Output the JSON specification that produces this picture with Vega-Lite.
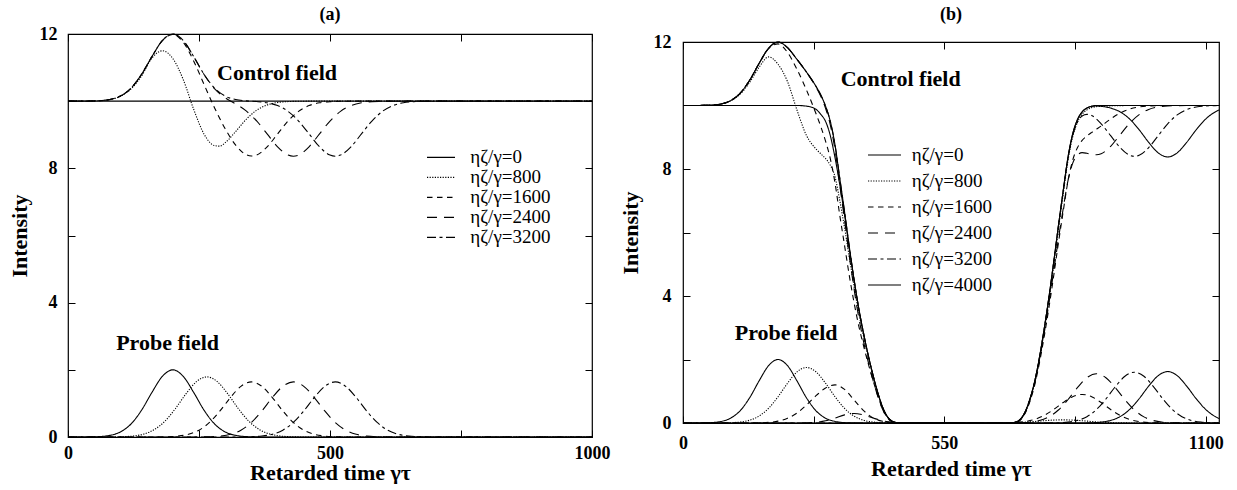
{
"$schema": "https://vega.github.io/schema/vega-lite/v6.json",
"background": "white",
"padding": {"left": 7, "top": 6, "right": 0, "bottom": 0},
"spacing": 7,
"resolve": {"scale": {"strokeDash": "independent"}, "legend": {"strokeDash": "independent"}},
"config": {
  "font": "Liberation Serif",
  "view": {"stroke": "black", "strokeWidth": 1.2},
  "axis": {"grid": false, "domain": false, "ticks": true, "tickColor": "black", "tickSize": -7, "tickWidth": 1, "labelFont": "Liberation Serif", "labelFontSize": 18, "labelFontWeight": "bold", "labelColor": "black", "labelFlush": false, "labelOverlap": false, "titleFont": "Liberation Serif", "titleFontSize": 22, "titleFontWeight": "bold", "titleColor": "black", "format": "d"},
  "title": {"font": "Liberation Serif", "fontSize": 18, "fontWeight": "bold", "color": "black"},
  "legend": {"labelFont": "Liberation Serif", "labelColor": "black"},
  "text": {"font": "Liberation Serif"}
},
"datasets": {
"a": [
{"s":0,"f":"P","t":0,"v":0},{"s":0,"f":"P","t":20,"v":0},{"s":0,"f":"P","t":40,"v":0.003},{"s":0,"f":"P","t":60,"v":0.013},{"s":0,"f":"P","t":80,"v":0.049},{"s":0,"f":"P","t":100,"v":0.151},{"s":0,"f":"P","t":120,"v":0.383},{"s":0,"f":"P","t":140,"v":0.789},{"s":0,"f":"P","t":160,"v":1.323},{"s":0,"f":"P","t":180,"v":1.804},{"s":0,"f":"P","t":200,"v":2},{"s":0,"f":"P","t":220,"v":1.804},{"s":0,"f":"P","t":240,"v":1.323},{"s":0,"f":"P","t":260,"v":0.789},{"s":0,"f":"P","t":280,"v":0.383},{"s":0,"f":"P","t":300,"v":0.151},{"s":0,"f":"P","t":320,"v":0.049},{"s":0,"f":"P","t":340,"v":0.013},{"s":0,"f":"P","t":360,"v":0.003},{"s":0,"f":"P","t":380,"v":0},{"s":0,"f":"P","t":1000,"v":0},
{"s":800,"f":"P","t":0,"v":0},{"s":800,"f":"P","t":85,"v":0.002},{"s":800,"f":"P","t":105,"v":0.009},{"s":800,"f":"P","t":125,"v":0.03},{"s":800,"f":"P","t":145,"v":0.089},{"s":800,"f":"P","t":165,"v":0.223},{"s":800,"f":"P","t":185,"v":0.472},{"s":800,"f":"P","t":205,"v":0.846},{"s":800,"f":"P","t":225,"v":1.283},{"s":800,"f":"P","t":245,"v":1.647},{"s":800,"f":"P","t":265,"v":1.79},{"s":800,"f":"P","t":285,"v":1.647},{"s":800,"f":"P","t":305,"v":1.283},{"s":800,"f":"P","t":325,"v":0.846},{"s":800,"f":"P","t":345,"v":0.472},{"s":800,"f":"P","t":365,"v":0.223},{"s":800,"f":"P","t":385,"v":0.089},{"s":800,"f":"P","t":405,"v":0.03},{"s":800,"f":"P","t":425,"v":0.009},{"s":800,"f":"P","t":445,"v":0.002},{"s":800,"f":"P","t":1000,"v":0},
{"s":1600,"f":"P","t":0,"v":0},{"s":1600,"f":"P","t":170,"v":0.002},{"s":1600,"f":"P","t":190,"v":0.008},{"s":1600,"f":"P","t":210,"v":0.028},{"s":1600,"f":"P","t":230,"v":0.082},{"s":1600,"f":"P","t":250,"v":0.204},{"s":1600,"f":"P","t":270,"v":0.433},{"s":1600,"f":"P","t":290,"v":0.775},{"s":1600,"f":"P","t":310,"v":1.175},{"s":1600,"f":"P","t":330,"v":1.509},{"s":1600,"f":"P","t":350,"v":1.64},{"s":1600,"f":"P","t":370,"v":1.509},{"s":1600,"f":"P","t":390,"v":1.175},{"s":1600,"f":"P","t":410,"v":0.775},{"s":1600,"f":"P","t":430,"v":0.433},{"s":1600,"f":"P","t":450,"v":0.204},{"s":1600,"f":"P","t":470,"v":0.082},{"s":1600,"f":"P","t":490,"v":0.028},{"s":1600,"f":"P","t":510,"v":0.008},{"s":1600,"f":"P","t":530,"v":0.002},{"s":1600,"f":"P","t":1000,"v":0},
{"s":2400,"f":"P","t":0,"v":0},{"s":2400,"f":"P","t":250,"v":0.002},{"s":2400,"f":"P","t":270,"v":0.008},{"s":2400,"f":"P","t":290,"v":0.028},{"s":2400,"f":"P","t":310,"v":0.082},{"s":2400,"f":"P","t":330,"v":0.204},{"s":2400,"f":"P","t":350,"v":0.433},{"s":2400,"f":"P","t":370,"v":0.775},{"s":2400,"f":"P","t":390,"v":1.175},{"s":2400,"f":"P","t":410,"v":1.509},{"s":2400,"f":"P","t":430,"v":1.64},{"s":2400,"f":"P","t":450,"v":1.509},{"s":2400,"f":"P","t":470,"v":1.175},{"s":2400,"f":"P","t":490,"v":0.775},{"s":2400,"f":"P","t":510,"v":0.433},{"s":2400,"f":"P","t":530,"v":0.204},{"s":2400,"f":"P","t":550,"v":0.082},{"s":2400,"f":"P","t":570,"v":0.028},{"s":2400,"f":"P","t":590,"v":0.008},{"s":2400,"f":"P","t":610,"v":0.002},{"s":2400,"f":"P","t":1000,"v":0},
{"s":3200,"f":"P","t":0,"v":0},{"s":3200,"f":"P","t":330,"v":0.002},{"s":3200,"f":"P","t":350,"v":0.008},{"s":3200,"f":"P","t":370,"v":0.028},{"s":3200,"f":"P","t":390,"v":0.082},{"s":3200,"f":"P","t":410,"v":0.204},{"s":3200,"f":"P","t":430,"v":0.433},{"s":3200,"f":"P","t":450,"v":0.775},{"s":3200,"f":"P","t":470,"v":1.175},{"s":3200,"f":"P","t":490,"v":1.509},{"s":3200,"f":"P","t":510,"v":1.64},{"s":3200,"f":"P","t":530,"v":1.509},{"s":3200,"f":"P","t":550,"v":1.175},{"s":3200,"f":"P","t":570,"v":0.775},{"s":3200,"f":"P","t":590,"v":0.433},{"s":3200,"f":"P","t":610,"v":0.204},{"s":3200,"f":"P","t":630,"v":0.082},{"s":3200,"f":"P","t":650,"v":0.028},{"s":3200,"f":"P","t":670,"v":0.008},{"s":3200,"f":"P","t":690,"v":0.002},{"s":3200,"f":"P","t":1000,"v":0},
{"s":0,"f":"C","t":0,"v":10},{"s":0,"f":"C","t":1000,"v":10},
{"s":800,"f":"C","t":0,"v":10},{"s":800,"f":"C","t":20,"v":10},{"s":800,"f":"C","t":40,"v":10.003},{"s":800,"f":"C","t":60,"v":10.013},{"s":800,"f":"C","t":80,"v":10.047},{"s":800,"f":"C","t":100,"v":10.145},{"s":800,"f":"C","t":120,"v":10.361},{"s":800,"f":"C","t":140,"v":10.74},{"s":800,"f":"C","t":160,"v":11.28},{"s":800,"f":"C","t":180,"v":11.5},{"s":800,"f":"C","t":200,"v":11.27},{"s":800,"f":"C","t":220,"v":10.64},{"s":800,"f":"C","t":240,"v":9.751},{"s":800,"f":"C","t":260,"v":9.008},{"s":800,"f":"C","t":280,"v":8.675},{"s":800,"f":"C","t":290,"v":8.66},{"s":800,"f":"C","t":300,"v":8.764},{"s":800,"f":"C","t":320,"v":9.096},{"s":800,"f":"C","t":340,"v":9.458},{"s":800,"f":"C","t":360,"v":9.73},{"s":800,"f":"C","t":380,"v":9.886},{"s":800,"f":"C","t":400,"v":9.96},{"s":800,"f":"C","t":420,"v":9.988},{"s":800,"f":"C","t":440,"v":9.997},{"s":800,"f":"C","t":460,"v":10},{"s":800,"f":"C","t":1000,"v":10},
{"s":1600,"f":"C","t":0,"v":10},{"s":1600,"f":"C","t":20,"v":10},{"s":1600,"f":"C","t":40,"v":10.003},{"s":1600,"f":"C","t":60,"v":10.013},{"s":1600,"f":"C","t":80,"v":10.049},{"s":1600,"f":"C","t":100,"v":10.151},{"s":1600,"f":"C","t":120,"v":10.383},{"s":1600,"f":"C","t":140,"v":10.789},{"s":1600,"f":"C","t":160,"v":11.322},{"s":1600,"f":"C","t":180,"v":11.8},{"s":1600,"f":"C","t":200,"v":11.985},{"s":1600,"f":"C","t":220,"v":11.755},{"s":1600,"f":"C","t":240,"v":11.191},{"s":1600,"f":"C","t":260,"v":10.485},{"s":1600,"f":"C","t":280,"v":9.792},{"s":1600,"f":"C","t":300,"v":9.177},{"s":1600,"f":"C","t":320,"v":8.689},{"s":1600,"f":"C","t":340,"v":8.407},{"s":1600,"f":"C","t":350,"v":8.366},{"s":1600,"f":"C","t":360,"v":8.397},{"s":1600,"f":"C","t":380,"v":8.64},{"s":1600,"f":"C","t":400,"v":9.026},{"s":1600,"f":"C","t":420,"v":9.409},{"s":1600,"f":"C","t":440,"v":9.696},{"s":1600,"f":"C","t":460,"v":9.868},{"s":1600,"f":"C","t":480,"v":9.951},{"s":1600,"f":"C","t":500,"v":9.985},{"s":1600,"f":"C","t":520,"v":9.996},{"s":1600,"f":"C","t":540,"v":10},{"s":1600,"f":"C","t":1000,"v":10},
{"s":2400,"f":"C","t":0,"v":10},{"s":2400,"f":"C","t":20,"v":10},{"s":2400,"f":"C","t":40,"v":10.003},{"s":2400,"f":"C","t":60,"v":10.013},{"s":2400,"f":"C","t":80,"v":10.049},{"s":2400,"f":"C","t":100,"v":10.151},{"s":2400,"f":"C","t":120,"v":10.383},{"s":2400,"f":"C","t":140,"v":10.789},{"s":2400,"f":"C","t":160,"v":11.323},{"s":2400,"f":"C","t":180,"v":11.804},{"s":2400,"f":"C","t":200,"v":12},{"s":2400,"f":"C","t":220,"v":11.804},{"s":2400,"f":"C","t":240,"v":11.322},{"s":2400,"f":"C","t":260,"v":10.785},{"s":2400,"f":"C","t":280,"v":10.368},{"s":2400,"f":"C","t":300,"v":10.102},{"s":2400,"f":"C","t":320,"v":9.917},{"s":2400,"f":"C","t":340,"v":9.709},{"s":2400,"f":"C","t":360,"v":9.412},{"s":2400,"f":"C","t":380,"v":9.026},{"s":2400,"f":"C","t":400,"v":8.64},{"s":2400,"f":"C","t":420,"v":8.394},{"s":2400,"f":"C","t":430,"v":8.36},{"s":2400,"f":"C","t":440,"v":8.394},{"s":2400,"f":"C","t":460,"v":8.64},{"s":2400,"f":"C","t":480,"v":9.026},{"s":2400,"f":"C","t":500,"v":9.409},{"s":2400,"f":"C","t":520,"v":9.696},{"s":2400,"f":"C","t":540,"v":9.868},{"s":2400,"f":"C","t":560,"v":9.951},{"s":2400,"f":"C","t":580,"v":9.985},{"s":2400,"f":"C","t":600,"v":9.996},{"s":2400,"f":"C","t":620,"v":10},{"s":2400,"f":"C","t":1000,"v":10},
{"s":3200,"f":"C","t":0,"v":10},{"s":3200,"f":"C","t":20,"v":10},{"s":3200,"f":"C","t":40,"v":10.003},{"s":3200,"f":"C","t":60,"v":10.013},{"s":3200,"f":"C","t":80,"v":10.049},{"s":3200,"f":"C","t":100,"v":10.151},{"s":3200,"f":"C","t":120,"v":10.383},{"s":3200,"f":"C","t":140,"v":10.789},{"s":3200,"f":"C","t":160,"v":11.323},{"s":3200,"f":"C","t":180,"v":11.804},{"s":3200,"f":"C","t":200,"v":12},{"s":3200,"f":"C","t":220,"v":11.804},{"s":3200,"f":"C","t":240,"v":11.323},{"s":3200,"f":"C","t":260,"v":10.789},{"s":3200,"f":"C","t":280,"v":10.383},{"s":3200,"f":"C","t":300,"v":10.151},{"s":3200,"f":"C","t":320,"v":10.048},{"s":3200,"f":"C","t":340,"v":10.009},{"s":3200,"f":"C","t":360,"v":9.988},{"s":3200,"f":"C","t":380,"v":9.951},{"s":3200,"f":"C","t":400,"v":9.868},{"s":3200,"f":"C","t":420,"v":9.696},{"s":3200,"f":"C","t":440,"v":9.409},{"s":3200,"f":"C","t":460,"v":9.026},{"s":3200,"f":"C","t":480,"v":8.64},{"s":3200,"f":"C","t":500,"v":8.394},{"s":3200,"f":"C","t":510,"v":8.36},{"s":3200,"f":"C","t":520,"v":8.394},{"s":3200,"f":"C","t":540,"v":8.64},{"s":3200,"f":"C","t":560,"v":9.026},{"s":3200,"f":"C","t":580,"v":9.409},{"s":3200,"f":"C","t":600,"v":9.696},{"s":3200,"f":"C","t":620,"v":9.868},{"s":3200,"f":"C","t":640,"v":9.951},{"s":3200,"f":"C","t":660,"v":9.985},{"s":3200,"f":"C","t":680,"v":9.996},{"s":3200,"f":"C","t":700,"v":10},{"s":3200,"f":"C","t":1000,"v":10}
],
"b": [
{"s":0,"f":"P","t":0,"v":0},{"s":0,"f":"P","t":20,"v":0},{"s":0,"f":"P","t":40,"v":0.003},{"s":0,"f":"P","t":60,"v":0.013},{"s":0,"f":"P","t":80,"v":0.049},{"s":0,"f":"P","t":100,"v":0.151},{"s":0,"f":"P","t":120,"v":0.383},{"s":0,"f":"P","t":140,"v":0.789},{"s":0,"f":"P","t":160,"v":1.323},{"s":0,"f":"P","t":180,"v":1.804},{"s":0,"f":"P","t":200,"v":2},{"s":0,"f":"P","t":220,"v":1.804},{"s":0,"f":"P","t":240,"v":1.323},{"s":0,"f":"P","t":260,"v":0.789},{"s":0,"f":"P","t":280,"v":0.383},{"s":0,"f":"P","t":300,"v":0.151},{"s":0,"f":"P","t":320,"v":0.049},{"s":0,"f":"P","t":340,"v":0.013},{"s":0,"f":"P","t":360,"v":0.003},{"s":0,"f":"P","t":380,"v":0},{"s":0,"f":"P","t":1128,"v":0},
{"s":800,"f":"P","t":0,"v":0},{"s":800,"f":"P","t":80,"v":0.002},{"s":800,"f":"P","t":100,"v":0.009},{"s":800,"f":"P","t":120,"v":0.03},{"s":800,"f":"P","t":140,"v":0.087},{"s":800,"f":"P","t":160,"v":0.218},{"s":800,"f":"P","t":180,"v":0.461},{"s":800,"f":"P","t":200,"v":0.827},{"s":800,"f":"P","t":220,"v":1.254},{"s":800,"f":"P","t":240,"v":1.61},{"s":800,"f":"P","t":260,"v":1.75},{"s":800,"f":"P","t":280,"v":1.61},{"s":800,"f":"P","t":300,"v":1.254},{"s":800,"f":"P","t":320,"v":0.827},{"s":800,"f":"P","t":340,"v":0.461},{"s":800,"f":"P","t":360,"v":0.218},{"s":800,"f":"P","t":380,"v":0.087},{"s":800,"f":"P","t":400,"v":0.03},{"s":800,"f":"P","t":420,"v":0.009},{"s":800,"f":"P","t":440,"v":0.002},{"s":800,"f":"P","t":460,"v":0},{"s":800,"f":"P","t":680,"v":0},{"s":800,"f":"P","t":700,"v":0.013},{"s":800,"f":"P","t":720,"v":0.026},{"s":800,"f":"P","t":740,"v":0.047},{"s":800,"f":"P","t":760,"v":0.072},{"s":800,"f":"P","t":780,"v":0.092},{"s":800,"f":"P","t":800,"v":0.1},{"s":800,"f":"P","t":820,"v":0.092},{"s":800,"f":"P","t":840,"v":0.072},{"s":800,"f":"P","t":860,"v":0.047},{"s":800,"f":"P","t":880,"v":0.026},{"s":800,"f":"P","t":900,"v":0.013},{"s":800,"f":"P","t":920,"v":0.005},{"s":800,"f":"P","t":940,"v":0.002},{"s":800,"f":"P","t":960,"v":0},{"s":800,"f":"P","t":1128,"v":0},
{"s":1600,"f":"P","t":0,"v":0},{"s":1600,"f":"P","t":140,"v":0.001},{"s":1600,"f":"P","t":160,"v":0.006},{"s":1600,"f":"P","t":180,"v":0.02},{"s":1600,"f":"P","t":200,"v":0.06},{"s":1600,"f":"P","t":220,"v":0.15},{"s":1600,"f":"P","t":240,"v":0.316},{"s":1600,"f":"P","t":260,"v":0.567},{"s":1600,"f":"P","t":280,"v":0.86},{"s":1600,"f":"P","t":300,"v":1.104},{"s":1600,"f":"P","t":320,"v":1.2},{"s":1600,"f":"P","t":340,"v":1.059},{"s":1600,"f":"P","t":360,"v":0.728},{"s":1600,"f":"P","t":380,"v":0.39},{"s":1600,"f":"P","t":400,"v":0.162},{"s":1600,"f":"P","t":420,"v":0.053},{"s":1600,"f":"P","t":440,"v":0.013},{"s":1600,"f":"P","t":460,"v":0.003},{"s":1600,"f":"P","t":480,"v":0},{"s":1600,"f":"P","t":660,"v":0},{"s":1600,"f":"P","t":680,"v":0.004},{"s":1600,"f":"P","t":700,"v":0.015},{"s":1600,"f":"P","t":720,"v":0.045},{"s":1600,"f":"P","t":740,"v":0.112},{"s":1600,"f":"P","t":760,"v":0.237},{"s":1600,"f":"P","t":780,"v":0.425},{"s":1600,"f":"P","t":800,"v":0.645},{"s":1600,"f":"P","t":820,"v":0.828},{"s":1600,"f":"P","t":840,"v":0.9},{"s":1600,"f":"P","t":860,"v":0.828},{"s":1600,"f":"P","t":880,"v":0.645},{"s":1600,"f":"P","t":900,"v":0.425},{"s":1600,"f":"P","t":920,"v":0.237},{"s":1600,"f":"P","t":940,"v":0.112},{"s":1600,"f":"P","t":960,"v":0.045},{"s":1600,"f":"P","t":980,"v":0.015},{"s":1600,"f":"P","t":1000,"v":0.004},{"s":1600,"f":"P","t":1020,"v":0},{"s":1600,"f":"P","t":1128,"v":0},
{"s":2400,"f":"P","t":0,"v":0},{"s":2400,"f":"P","t":240,"v":0},{"s":2400,"f":"P","t":260,"v":0.005},{"s":2400,"f":"P","t":280,"v":0.022},{"s":2400,"f":"P","t":300,"v":0.069},{"s":2400,"f":"P","t":320,"v":0.156},{"s":2400,"f":"P","t":340,"v":0.255},{"s":2400,"f":"P","t":360,"v":0.3},{"s":2400,"f":"P","t":380,"v":0.255},{"s":2400,"f":"P","t":400,"v":0.156},{"s":2400,"f":"P","t":420,"v":0.069},{"s":2400,"f":"P","t":440,"v":0.022},{"s":2400,"f":"P","t":460,"v":0.005},{"s":2400,"f":"P","t":480,"v":0},{"s":2400,"f":"P","t":670,"v":0},{"s":2400,"f":"P","t":690,"v":0.002},{"s":2400,"f":"P","t":710,"v":0.008},{"s":2400,"f":"P","t":730,"v":0.026},{"s":2400,"f":"P","t":750,"v":0.077},{"s":2400,"f":"P","t":770,"v":0.193},{"s":2400,"f":"P","t":790,"v":0.409},{"s":2400,"f":"P","t":810,"v":0.732},{"s":2400,"f":"P","t":830,"v":1.111},{"s":2400,"f":"P","t":850,"v":1.426},{"s":2400,"f":"P","t":870,"v":1.55},{"s":2400,"f":"P","t":890,"v":1.426},{"s":2400,"f":"P","t":910,"v":1.111},{"s":2400,"f":"P","t":930,"v":0.732},{"s":2400,"f":"P","t":950,"v":0.409},{"s":2400,"f":"P","t":970,"v":0.193},{"s":2400,"f":"P","t":990,"v":0.077},{"s":2400,"f":"P","t":1010,"v":0.026},{"s":2400,"f":"P","t":1030,"v":0.008},{"s":2400,"f":"P","t":1050,"v":0.002},{"s":2400,"f":"P","t":1070,"v":0},{"s":2400,"f":"P","t":1128,"v":0},
{"s":3200,"f":"P","t":0,"v":0},{"s":3200,"f":"P","t":750,"v":0},{"s":3200,"f":"P","t":770,"v":0.002},{"s":3200,"f":"P","t":790,"v":0.008},{"s":3200,"f":"P","t":810,"v":0.027},{"s":3200,"f":"P","t":830,"v":0.08},{"s":3200,"f":"P","t":850,"v":0.199},{"s":3200,"f":"P","t":870,"v":0.422},{"s":3200,"f":"P","t":890,"v":0.756},{"s":3200,"f":"P","t":910,"v":1.147},{"s":3200,"f":"P","t":930,"v":1.472},{"s":3200,"f":"P","t":950,"v":1.6},{"s":3200,"f":"P","t":970,"v":1.472},{"s":3200,"f":"P","t":990,"v":1.147},{"s":3200,"f":"P","t":1010,"v":0.756},{"s":3200,"f":"P","t":1030,"v":0.422},{"s":3200,"f":"P","t":1050,"v":0.199},{"s":3200,"f":"P","t":1070,"v":0.08},{"s":3200,"f":"P","t":1090,"v":0.027},{"s":3200,"f":"P","t":1110,"v":0.008},{"s":3200,"f":"P","t":1128,"v":0.003},
{"s":4000,"f":"P","t":0,"v":0},{"s":4000,"f":"P","t":840,"v":0},{"s":4000,"f":"P","t":860,"v":0.008},{"s":4000,"f":"P","t":880,"v":0.027},{"s":4000,"f":"P","t":900,"v":0.081},{"s":4000,"f":"P","t":920,"v":0.202},{"s":4000,"f":"P","t":940,"v":0.427},{"s":4000,"f":"P","t":960,"v":0.765},{"s":4000,"f":"P","t":980,"v":1.161},{"s":4000,"f":"P","t":1000,"v":1.491},{"s":4000,"f":"P","t":1020,"v":1.62},{"s":4000,"f":"P","t":1040,"v":1.491},{"s":4000,"f":"P","t":1060,"v":1.161},{"s":4000,"f":"P","t":1080,"v":0.765},{"s":4000,"f":"P","t":1100,"v":0.427},{"s":4000,"f":"P","t":1120,"v":0.202},{"s":4000,"f":"P","t":1128,"v":0.143},
{"s":0,"f":"C","t":0,"v":10},{"s":0,"f":"C","t":240,"v":10},{"s":0,"f":"C","t":260,"v":9.98},{"s":0,"f":"C","t":280,"v":9.88},{"s":0,"f":"C","t":290,"v":9.72},{"s":0,"f":"C","t":300,"v":9.5},{"s":0,"f":"C","t":310,"v":9.05},{"s":0,"f":"C","t":320,"v":8.35},{"s":0,"f":"C","t":330,"v":7.5},{"s":0,"f":"C","t":340,"v":6.55},{"s":0,"f":"C","t":350,"v":5.5},{"s":0,"f":"C","t":360,"v":4.5},{"s":0,"f":"C","t":370,"v":3.6},{"s":0,"f":"C","t":380,"v":2.82},{"s":0,"f":"C","t":390,"v":2.12},{"s":0,"f":"C","t":400,"v":1.5},{"s":0,"f":"C","t":410,"v":0.95},{"s":0,"f":"C","t":420,"v":0.5},{"s":0,"f":"C","t":430,"v":0.2},{"s":0,"f":"C","t":440,"v":0.06},{"s":0,"f":"C","t":450,"v":0.01},{"s":0,"f":"C","t":460,"v":0},{"s":0,"f":"C","t":690,"v":0},{"s":0,"f":"C","t":700,"v":0.03},{"s":0,"f":"C","t":710,"v":0.12},{"s":0,"f":"C","t":720,"v":0.35},{"s":0,"f":"C","t":730,"v":0.75},{"s":0,"f":"C","t":740,"v":1.3},{"s":0,"f":"C","t":750,"v":2.05},{"s":0,"f":"C","t":760,"v":2.95},{"s":0,"f":"C","t":770,"v":3.95},{"s":0,"f":"C","t":780,"v":5.05},{"s":0,"f":"C","t":790,"v":6.2},{"s":0,"f":"C","t":800,"v":7.3},{"s":0,"f":"C","t":810,"v":8.35},{"s":0,"f":"C","t":820,"v":9.1},{"s":0,"f":"C","t":830,"v":9.55},{"s":0,"f":"C","t":840,"v":9.8},{"s":0,"f":"C","t":850,"v":9.92},{"s":0,"f":"C","t":860,"v":9.98},{"s":0,"f":"C","t":870,"v":10},{"s":0,"f":"C","t":1128,"v":10},
{"s":800,"f":"C","t":0,"v":10},{"s":800,"f":"C","t":20,"v":10},{"s":800,"f":"C","t":40,"v":10.003},{"s":800,"f":"C","t":60,"v":10.013},{"s":800,"f":"C","t":80,"v":10.047},{"s":800,"f":"C","t":100,"v":10.142},{"s":800,"f":"C","t":120,"v":10.353},{"s":800,"f":"C","t":140,"v":10.72},{"s":800,"f":"C","t":160,"v":11.2},{"s":800,"f":"C","t":180,"v":11.53},{"s":800,"f":"C","t":200,"v":11.3},{"s":800,"f":"C","t":220,"v":10.75},{"s":800,"f":"C","t":240,"v":9.85},{"s":800,"f":"C","t":260,"v":9.05},{"s":800,"f":"C","t":280,"v":8.63},{"s":800,"f":"C","t":290,"v":8.48},{"s":800,"f":"C","t":300,"v":8.33},{"s":800,"f":"C","t":310,"v":8.12},{"s":800,"f":"C","t":320,"v":7.75},{"s":800,"f":"C","t":330,"v":7.0},{"s":800,"f":"C","t":340,"v":6.15},{"s":800,"f":"C","t":350,"v":5.226},{"s":800,"f":"C","t":360,"v":4.302},{"s":800,"f":"C","t":370,"v":3.459},{"s":800,"f":"C","t":380,"v":2.733},{"s":800,"f":"C","t":390,"v":2.068},{"s":800,"f":"C","t":400,"v":1.47},{"s":800,"f":"C","t":410,"v":0.934},{"s":800,"f":"C","t":420,"v":0.491},{"s":800,"f":"C","t":430,"v":0.196},{"s":800,"f":"C","t":440,"v":0.058},{"s":800,"f":"C","t":450,"v":0.01},{"s":800,"f":"C","t":460,"v":0},{"s":800,"f":"C","t":690,"v":0},{"s":800,"f":"C","t":700,"v":0.018},{"s":800,"f":"C","t":710,"v":0.1},{"s":800,"f":"C","t":720,"v":0.324},{"s":800,"f":"C","t":730,"v":0.714},{"s":800,"f":"C","t":740,"v":1.253},{"s":800,"f":"C","t":750,"v":1.991},{"s":800,"f":"C","t":760,"v":2.878},{"s":800,"f":"C","t":770,"v":3.867},{"s":800,"f":"C","t":780,"v":4.958},{"s":800,"f":"C","t":790,"v":6.102},{"s":800,"f":"C","t":800,"v":7.2},{"s":800,"f":"C","t":810,"v":8.252},{"s":800,"f":"C","t":820,"v":9.008},{"s":800,"f":"C","t":830,"v":9.467},{"s":800,"f":"C","t":840,"v":9.728},{"s":800,"f":"C","t":850,"v":9.861},{"s":800,"f":"C","t":860,"v":9.933},{"s":800,"f":"C","t":870,"v":9.964},{"s":800,"f":"C","t":880,"v":9.974},{"s":800,"f":"C","t":900,"v":9.988},{"s":800,"f":"C","t":920,"v":9.995},{"s":800,"f":"C","t":940,"v":10},{"s":800,"f":"C","t":1128,"v":10},
{"s":1600,"f":"C","t":0,"v":10},{"s":1600,"f":"C","t":20,"v":10},{"s":1600,"f":"C","t":40,"v":10.003},{"s":1600,"f":"C","t":60,"v":10.013},{"s":1600,"f":"C","t":80,"v":10.049},{"s":1600,"f":"C","t":100,"v":10.151},{"s":1600,"f":"C","t":120,"v":10.383},{"s":1600,"f":"C","t":140,"v":10.788},{"s":1600,"f":"C","t":160,"v":11.317},{"s":1600,"f":"C","t":180,"v":11.784},{"s":1600,"f":"C","t":200,"v":11.94},{"s":1600,"f":"C","t":220,"v":11.67},{"s":1600,"f":"C","t":240,"v":11.134},{"s":1600,"f":"C","t":260,"v":10.483},{"s":1600,"f":"C","t":280,"v":9.74},{"s":1600,"f":"C","t":290,"v":9.335},{"s":1600,"f":"C","t":300,"v":8.876},{"s":1600,"f":"C","t":310,"v":8.325},{"s":1600,"f":"C","t":320,"v":7.55},{"s":1600,"f":"C","t":330,"v":6.537},{"s":1600,"f":"C","t":340,"v":5.591},{"s":1600,"f":"C","t":350,"v":4.644},{"s":1600,"f":"C","t":360,"v":3.792},{"s":1600,"f":"C","t":370,"v":3.05},{"s":1600,"f":"C","t":380,"v":2.43},{"s":1600,"f":"C","t":390,"v":1.86},{"s":1600,"f":"C","t":400,"v":1.338},{"s":1600,"f":"C","t":410,"v":0.854},{"s":1600,"f":"C","t":420,"v":0.447},{"s":1600,"f":"C","t":430,"v":0.173},{"s":1600,"f":"C","t":440,"v":0.047},{"s":1600,"f":"C","t":450,"v":0.004},{"s":1600,"f":"C","t":460,"v":0},{"s":1600,"f":"C","t":690,"v":0},{"s":1600,"f":"C","t":700,"v":0.015},{"s":1600,"f":"C","t":710,"v":0.093},{"s":1600,"f":"C","t":720,"v":0.305},{"s":1600,"f":"C","t":730,"v":0.678},{"s":1600,"f":"C","t":740,"v":1.188},{"s":1600,"f":"C","t":750,"v":1.883},{"s":1600,"f":"C","t":760,"v":2.713},{"s":1600,"f":"C","t":770,"v":3.626},{"s":1600,"f":"C","t":780,"v":4.625},{"s":1600,"f":"C","t":790,"v":5.665},{"s":1600,"f":"C","t":800,"v":6.655},{"s":1600,"f":"C","t":810,"v":7.604},{"s":1600,"f":"C","t":820,"v":8.272},{"s":1600,"f":"C","t":830,"v":8.669},{"s":1600,"f":"C","t":840,"v":8.9},{"s":1600,"f":"C","t":850,"v":9.039},{"s":1600,"f":"C","t":860,"v":9.152},{"s":1600,"f":"C","t":870,"v":9.254},{"s":1600,"f":"C","t":880,"v":9.355},{"s":1600,"f":"C","t":900,"v":9.575},{"s":1600,"f":"C","t":920,"v":9.763},{"s":1600,"f":"C","t":940,"v":9.888},{"s":1600,"f":"C","t":960,"v":9.955},{"s":1600,"f":"C","t":980,"v":9.985},{"s":1600,"f":"C","t":1000,"v":9.996},{"s":1600,"f":"C","t":1020,"v":10},{"s":1600,"f":"C","t":1128,"v":10},
{"s":2400,"f":"C","t":0,"v":10},{"s":2400,"f":"C","t":20,"v":10},{"s":2400,"f":"C","t":40,"v":10.003},{"s":2400,"f":"C","t":60,"v":10.013},{"s":2400,"f":"C","t":80,"v":10.049},{"s":2400,"f":"C","t":100,"v":10.151},{"s":2400,"f":"C","t":120,"v":10.383},{"s":2400,"f":"C","t":140,"v":10.789},{"s":2400,"f":"C","t":160,"v":11.323},{"s":2400,"f":"C","t":180,"v":11.804},{"s":2400,"f":"C","t":200,"v":12},{"s":2400,"f":"C","t":220,"v":11.82},{"s":2400,"f":"C","t":240,"v":11.45},{"s":2400,"f":"C","t":260,"v":11.045},{"s":2400,"f":"C","t":280,"v":10.578},{"s":2400,"f":"C","t":290,"v":10.289},{"s":2400,"f":"C","t":300,"v":9.911},{"s":2400,"f":"C","t":310,"v":9.392},{"s":2400,"f":"C","t":320,"v":8.594},{"s":2400,"f":"C","t":330,"v":7.492},{"s":2400,"f":"C","t":340,"v":6.395},{"s":2400,"f":"C","t":350,"v":5.262},{"s":2400,"f":"C","t":360,"v":4.22},{"s":2400,"f":"C","t":370,"v":3.312},{"s":2400,"f":"C","t":380,"v":2.565},{"s":2400,"f":"C","t":390,"v":1.912},{"s":2400,"f":"C","t":400,"v":1.344},{"s":2400,"f":"C","t":410,"v":0.842},{"s":2400,"f":"C","t":420,"v":0.431},{"s":2400,"f":"C","t":430,"v":0.159},{"s":2400,"f":"C","t":440,"v":0.038},{"s":2400,"f":"C","t":450,"v":0},{"s":2400,"f":"C","t":690,"v":0},{"s":2400,"f":"C","t":700,"v":0.026},{"s":2400,"f":"C","t":710,"v":0.113},{"s":2400,"f":"C","t":720,"v":0.336},{"s":2400,"f":"C","t":730,"v":0.724},{"s":2400,"f":"C","t":740,"v":1.254},{"s":2400,"f":"C","t":750,"v":1.973},{"s":2400,"f":"C","t":760,"v":2.825},{"s":2400,"f":"C","t":770,"v":3.757},{"s":2400,"f":"C","t":780,"v":4.763},{"s":2400,"f":"C","t":790,"v":5.791},{"s":2400,"f":"C","t":800,"v":6.741},{"s":2400,"f":"C","t":810,"v":7.618},{"s":2400,"f":"C","t":820,"v":8.179},{"s":2400,"f":"C","t":830,"v":8.439},{"s":2400,"f":"C","t":840,"v":8.515},{"s":2400,"f":"C","t":850,"v":8.494},{"s":2400,"f":"C","t":860,"v":8.462},{"s":2400,"f":"C","t":870,"v":8.45},{"s":2400,"f":"C","t":880,"v":8.482},{"s":2400,"f":"C","t":900,"v":8.715},{"s":2400,"f":"C","t":920,"v":9.079},{"s":2400,"f":"C","t":940,"v":9.441},{"s":2400,"f":"C","t":960,"v":9.713},{"s":2400,"f":"C","t":980,"v":9.875},{"s":2400,"f":"C","t":1000,"v":9.954},{"s":2400,"f":"C","t":1020,"v":9.986},{"s":2400,"f":"C","t":1040,"v":9.996},{"s":2400,"f":"C","t":1060,"v":10},{"s":2400,"f":"C","t":1128,"v":10},
{"s":3200,"f":"C","t":0,"v":10},{"s":3200,"f":"C","t":20,"v":10},{"s":3200,"f":"C","t":40,"v":10.003},{"s":3200,"f":"C","t":60,"v":10.013},{"s":3200,"f":"C","t":80,"v":10.049},{"s":3200,"f":"C","t":100,"v":10.151},{"s":3200,"f":"C","t":120,"v":10.383},{"s":3200,"f":"C","t":140,"v":10.789},{"s":3200,"f":"C","t":160,"v":11.323},{"s":3200,"f":"C","t":180,"v":11.804},{"s":3200,"f":"C","t":200,"v":12},{"s":3200,"f":"C","t":220,"v":11.82},{"s":3200,"f":"C","t":240,"v":11.45},{"s":3200,"f":"C","t":260,"v":11.05},{"s":3200,"f":"C","t":280,"v":10.6},{"s":3200,"f":"C","t":290,"v":10.33},{"s":3200,"f":"C","t":300,"v":9.98},{"s":3200,"f":"C","t":310,"v":9.5},{"s":3200,"f":"C","t":320,"v":8.75},{"s":3200,"f":"C","t":330,"v":7.7},{"s":3200,"f":"C","t":340,"v":6.65},{"s":3200,"f":"C","t":350,"v":5.55},{"s":3200,"f":"C","t":360,"v":4.52},{"s":3200,"f":"C","t":370,"v":3.6},{"s":3200,"f":"C","t":380,"v":2.82},{"s":3200,"f":"C","t":390,"v":2.12},{"s":3200,"f":"C","t":400,"v":1.5},{"s":3200,"f":"C","t":410,"v":0.95},{"s":3200,"f":"C","t":420,"v":0.5},{"s":3200,"f":"C","t":430,"v":0.2},{"s":3200,"f":"C","t":440,"v":0.06},{"s":3200,"f":"C","t":450,"v":0.01},{"s":3200,"f":"C","t":460,"v":0},{"s":3200,"f":"C","t":690,"v":0},{"s":3200,"f":"C","t":700,"v":0.03},{"s":3200,"f":"C","t":710,"v":0.12},{"s":3200,"f":"C","t":720,"v":0.35},{"s":3200,"f":"C","t":730,"v":0.75},{"s":3200,"f":"C","t":740,"v":1.3},{"s":3200,"f":"C","t":750,"v":2.05},{"s":3200,"f":"C","t":760,"v":2.95},{"s":3200,"f":"C","t":770,"v":3.948},{"s":3200,"f":"C","t":780,"v":5.046},{"s":3200,"f":"C","t":790,"v":6.192},{"s":3200,"f":"C","t":800,"v":7.285},{"s":3200,"f":"C","t":810,"v":8.323},{"s":3200,"f":"C","t":820,"v":9.053},{"s":3200,"f":"C","t":830,"v":9.47},{"s":3200,"f":"C","t":840,"v":9.671},{"s":3200,"f":"C","t":850,"v":9.721},{"s":3200,"f":"C","t":860,"v":9.684},{"s":3200,"f":"C","t":870,"v":9.578},{"s":3200,"f":"C","t":880,"v":9.423},{"s":3200,"f":"C","t":900,"v":9.049},{"s":3200,"f":"C","t":920,"v":8.673},{"s":3200,"f":"C","t":940,"v":8.433},{"s":3200,"f":"C","t":950,"v":8.4},{"s":3200,"f":"C","t":960,"v":8.433},{"s":3200,"f":"C","t":980,"v":8.673},{"s":3200,"f":"C","t":1000,"v":9.049},{"s":3200,"f":"C","t":1020,"v":9.423},{"s":3200,"f":"C","t":1040,"v":9.704},{"s":3200,"f":"C","t":1060,"v":9.871},{"s":3200,"f":"C","t":1080,"v":9.953},{"s":3200,"f":"C","t":1100,"v":9.985},{"s":3200,"f":"C","t":1120,"v":9.996},{"s":3200,"f":"C","t":1128,"v":10},
{"s":4000,"f":"C","t":0,"v":10},{"s":4000,"f":"C","t":20,"v":10},{"s":4000,"f":"C","t":40,"v":10.003},{"s":4000,"f":"C","t":60,"v":10.013},{"s":4000,"f":"C","t":80,"v":10.049},{"s":4000,"f":"C","t":100,"v":10.151},{"s":4000,"f":"C","t":120,"v":10.383},{"s":4000,"f":"C","t":140,"v":10.789},{"s":4000,"f":"C","t":160,"v":11.323},{"s":4000,"f":"C","t":180,"v":11.804},{"s":4000,"f":"C","t":200,"v":12},{"s":4000,"f":"C","t":220,"v":11.82},{"s":4000,"f":"C","t":240,"v":11.45},{"s":4000,"f":"C","t":260,"v":11.05},{"s":4000,"f":"C","t":280,"v":10.6},{"s":4000,"f":"C","t":290,"v":10.33},{"s":4000,"f":"C","t":300,"v":9.98},{"s":4000,"f":"C","t":310,"v":9.5},{"s":4000,"f":"C","t":320,"v":8.75},{"s":4000,"f":"C","t":330,"v":7.7},{"s":4000,"f":"C","t":340,"v":6.65},{"s":4000,"f":"C","t":350,"v":5.55},{"s":4000,"f":"C","t":360,"v":4.52},{"s":4000,"f":"C","t":370,"v":3.6},{"s":4000,"f":"C","t":380,"v":2.82},{"s":4000,"f":"C","t":390,"v":2.12},{"s":4000,"f":"C","t":400,"v":1.5},{"s":4000,"f":"C","t":410,"v":0.95},{"s":4000,"f":"C","t":420,"v":0.5},{"s":4000,"f":"C","t":430,"v":0.2},{"s":4000,"f":"C","t":440,"v":0.06},{"s":4000,"f":"C","t":450,"v":0.01},{"s":4000,"f":"C","t":460,"v":0},{"s":4000,"f":"C","t":690,"v":0},{"s":4000,"f":"C","t":700,"v":0.03},{"s":4000,"f":"C","t":710,"v":0.12},{"s":4000,"f":"C","t":720,"v":0.35},{"s":4000,"f":"C","t":730,"v":0.75},{"s":4000,"f":"C","t":740,"v":1.3},{"s":4000,"f":"C","t":750,"v":2.05},{"s":4000,"f":"C","t":760,"v":2.95},{"s":4000,"f":"C","t":770,"v":3.95},{"s":4000,"f":"C","t":780,"v":5.05},{"s":4000,"f":"C","t":790,"v":6.2},{"s":4000,"f":"C","t":800,"v":7.3},{"s":4000,"f":"C","t":810,"v":8.35},{"s":4000,"f":"C","t":820,"v":9.1},{"s":4000,"f":"C","t":830,"v":9.55},{"s":4000,"f":"C","t":840,"v":9.8},{"s":4000,"f":"C","t":850,"v":9.92},{"s":4000,"f":"C","t":860,"v":9.972},{"s":4000,"f":"C","t":870,"v":9.985},{"s":4000,"f":"C","t":880,"v":9.973},{"s":4000,"f":"C","t":900,"v":9.919},{"s":4000,"f":"C","t":920,"v":9.798},{"s":4000,"f":"C","t":940,"v":9.573},{"s":4000,"f":"C","t":960,"v":9.235},{"s":4000,"f":"C","t":980,"v":8.839},{"s":4000,"f":"C","t":1000,"v":8.509},{"s":4000,"f":"C","t":1020,"v":8.38},{"s":4000,"f":"C","t":1040,"v":8.509},{"s":4000,"f":"C","t":1060,"v":8.839},{"s":4000,"f":"C","t":1080,"v":9.235},{"s":4000,"f":"C","t":1100,"v":9.573},{"s":4000,"f":"C","t":1120,"v":9.798},{"s":4000,"f":"C","t":1128,"v":9.857}
]
},
"hconcat": [
{
  "spacing": 0,
  "vconcat": [
    {
      "width": 524, "height": 1,
      "title": {"text": "(a)", "offset": -1, "font": "Liberation Serif"},
      "data": {"values": []},
      "mark": {"type": "text"},
      "encoding": {"text": {"value": ""}},
      "view": {"stroke": null}
    },
    {
      "width": 524, "height": 403,
      "data": {"name": "a"},
      "resolve": {"axis": {"x": "independent", "y": "independent"}},
      "layer": [
        {
          "mark": {"type": "line", "color": "black", "strokeWidth": 1.1, "interpolate": "monotone"},
          "encoding": {
            "x": {"field": "t", "type": "quantitative", "scale": {"domain": [0, 1000], "nice": false}, "axis": {"title": "Retarded time γτ", "values": [0, 250, 500, 750, 1000], "labelExpr": "datum.value % 500 === 0 ? datum.label : ''", "labelPadding": 14, "titlePadding": 0, "labelFont": "Liberation Serif", "titleFont": "Liberation Serif"}},
            "y": {"field": "v", "type": "quantitative", "scale": {"domain": [0, 12], "nice": false}, "axis": {"title": "Intensity", "values": [0, 2, 4, 6, 8, 10, 12], "labelExpr": "datum.value % 4 === 0 ? datum.label : ''", "labelPadding": 18, "titlePadding": 8, "labelFont": "Liberation Serif", "titleFont": "Liberation Serif"}},
            "strokeDash": {"field": "s", "type": "nominal", "scale": {"domain": [0, 800, 1600, 2400, 3200], "range": [[1, 0], [1.2, 1.4], [5.5, 4.5], [10, 7], [9, 3.5, 3, 3.5]]},
              "legend": {"orient": "none", "legendX": 363.5, "legendY": 124.9, "title": null, "symbolType": "M-2.8,0H2.8", "symbolSize": 100, "symbolStrokeWidth": 1.1, "symbolStrokeColor": "black", "symbolFillColor": "transparent", "labelFont": "Liberation Serif", "labelFontSize": 19, "labelFontWeight": "normal", "labelOffset": 19.8, "rowPadding": -0.3, "padding": 0, "labelExpr": "'ηζ/γ=' + datum.label"}},
            "detail": {"field": "f"}
          }
        },
        {
          "mark": {"type": "line", "opacity": 0},
          "encoding": {
            "x": {"field": "t", "type": "quantitative", "axis": {"orient": "top", "values": [0, 250, 500, 750, 1000], "labels": false, "title": null, "minExtent": 0}},
            "y": {"field": "v", "type": "quantitative", "axis": {"orient": "right", "values": [0, 2, 4, 6, 8, 10, 12], "labels": false, "title": null, "minExtent": 0}},
            "detail": {"field": "s"}
          }
        },
        {
          "data": {"values": [{}]},
          "mark": {"type": "text", "font": "Liberation Serif", "fontSize": 22, "fontWeight": "bold", "color": "black"},
          "encoding": {"x": {"datum": 399, "type": "quantitative", "axis": null}, "y": {"datum": 10.84, "type": "quantitative", "axis": null}, "text": {"value": "Control field"}}
        },
        {
          "data": {"values": [{}]},
          "mark": {"type": "text", "font": "Liberation Serif", "fontSize": 22, "fontWeight": "bold", "color": "black"},
          "encoding": {"x": {"datum": 190, "type": "quantitative", "axis": null}, "y": {"datum": 2.79, "type": "quantitative", "axis": null}, "text": {"value": "Probe field"}}
        }
      ]
    }
  ]
},
{
  "spacing": 8,
  "vconcat": [
    {
      "width": 536, "height": 1,
      "title": {"text": "(b)", "offset": -1, "font": "Liberation Serif"},
      "data": {"values": []},
      "mark": {"type": "text"},
      "encoding": {"text": {"value": ""}},
      "view": {"stroke": null}
    },
    {
      "width": 536, "height": 381,
      "data": {"name": "b"},
      "resolve": {"axis": {"x": "independent", "y": "independent"}},
      "layer": [
        {
          "mark": {"type": "line", "color": "black", "strokeWidth": 1.1, "interpolate": "monotone"},
          "encoding": {
            "x": {"field": "t", "type": "quantitative", "scale": {"domain": [0, 1128], "nice": false}, "axis": {"title": "Retarded time γτ", "values": [0, 275, 550, 825, 1100], "labelExpr": "datum.value % 550 === 0 ? datum.label : ''", "labelPadding": 18, "titlePadding": 6, "labelFont": "Liberation Serif", "titleFont": "Liberation Serif"}},
            "y": {"field": "v", "type": "quantitative", "scale": {"domain": [0, 12], "nice": false}, "axis": {"title": "Intensity", "values": [0, 2, 4, 6, 8, 10, 12], "labelExpr": "datum.value % 4 === 0 ? datum.label : ''", "labelPadding": 19, "titlePadding": 11, "labelFont": "Liberation Serif", "titleFont": "Liberation Serif"}},
            "strokeDash": {"field": "s", "type": "nominal", "scale": {"domain": [0, 800, 1600, 2400, 3200, 4000], "range": [[1, 0], [1.2, 1.4], [5.5, 4.5], [10, 7], [9, 3.5, 3, 3.5], [1, 0]]},
              "legend": {"orient": "none", "legendX": 192, "legendY": 122.5, "title": null, "symbolType": "M-3.3,0H3.3", "symbolSize": 100, "symbolStrokeWidth": 1.1, "symbolStrokeColor": "black", "symbolFillColor": "transparent", "labelFont": "Liberation Serif", "labelFontSize": 19, "labelFontWeight": "normal", "labelOffset": 17.7, "rowPadding": 6, "padding": 0, "labelExpr": "'ηζ/γ=' + datum.label"}},
            "detail": {"field": "f"}
          }
        },
        {
          "mark": {"type": "line", "opacity": 0},
          "encoding": {
            "x": {"field": "t", "type": "quantitative", "axis": {"orient": "top", "values": [0, 275, 550, 825, 1100], "labels": false, "title": null, "minExtent": 0}},
            "y": {"field": "v", "type": "quantitative", "axis": {"orient": "right", "values": [0, 2, 4, 6, 8, 10, 12], "labels": false, "title": null, "minExtent": 0}},
            "detail": {"field": "s"}
          }
        },
        {
          "data": {"values": [{}]},
          "mark": {"type": "text", "font": "Liberation Serif", "fontSize": 22, "fontWeight": "bold", "color": "black"},
          "encoding": {"x": {"datum": 458, "type": "quantitative", "axis": null}, "y": {"datum": 10.82, "type": "quantitative", "axis": null}, "text": {"value": "Control field"}}
        },
        {
          "data": {"values": [{}]},
          "mark": {"type": "text", "font": "Liberation Serif", "fontSize": 22, "fontWeight": "bold", "color": "black"},
          "encoding": {"x": {"datum": 217, "type": "quantitative", "axis": null}, "y": {"datum": 2.85, "type": "quantitative", "axis": null}, "text": {"value": "Probe field"}}
        }
      ]
    }
  ]
}
]
}
